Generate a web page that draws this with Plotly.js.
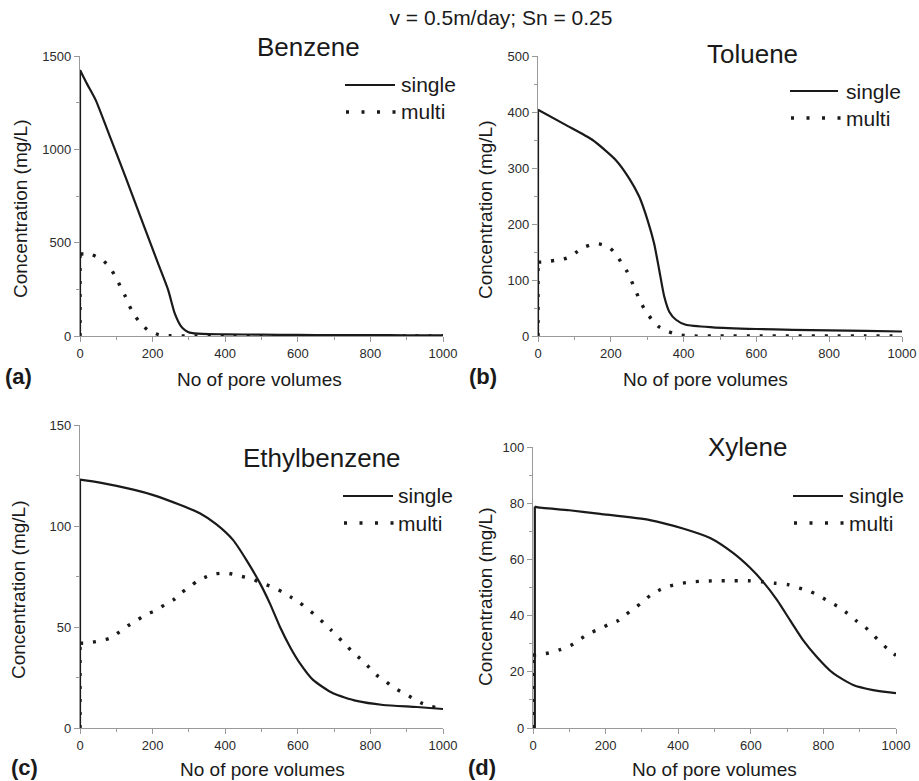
<!DOCTYPE html>
<html>
<head>
<meta charset="utf-8">
<script src="https://cdn.plot.ly/plotly-3.0.1.min.js"></script>
<style>html,body{margin:0;padding:0;background:#fff;}#chart{width:919px;height:781px;}</style>
</head>
<body>
<div id="chart"></div>
<script>
// ---------- data ----------
const mainTitle = "v = 0.5m/day; Sn = 0.25";
const panelNames = ["Benzene", "Toluene", "Ethylbenzene", "Xylene"];
const panelLetters = ["(a)", "(b)", "(c)", "(d)"];
const seriesNames = ["single", "multi"];
const xTitle = "No of pore volumes";
const yTitle = "Concentration (mg/L)";
const xTicks = [0, 200, 400, 600, 800, 1000];

// Benzene
const benzSingleX = [0, 0, 20, 43, 79, 125, 170, 215, 243, 261, 279, 290, 302, 338, 400, 500, 600, 700, 800, 900, 1000];
const benzSingleY = [0, 1425, 1348, 1265, 1086, 854, 621, 389, 246, 121, 50, 30, 18, 11, 9, 7, 6, 5, 5, 4, 4];
const benzMultiX = [0, 0, 32, 61, 81, 97, 110, 124, 136, 150, 167, 188, 217, 251, 300, 400, 500, 600, 700, 800, 900, 1000];
const benzMultiY = [0, 440, 436, 409, 370, 320, 270, 216, 162, 112, 68, 30, 7, 1, 0, 0, 0, 0, 0, 0, 0, 0];

// Toluene
const tolSingleX = [0, 0, 76, 150, 214, 250, 278, 301, 319, 333, 347, 361, 379, 406, 480, 600, 700, 800, 900, 1000];
const tolSingleY = [0, 404, 377, 350, 314, 282, 249, 207, 165, 118, 70, 43, 29, 20, 15.5, 12.5, 11, 10, 9, 8];
const tolMultiX = [0, 0, 10, 47, 79, 104, 128, 159, 191, 212, 228, 244, 257, 269, 281, 295, 312, 331, 358, 389, 425, 500, 600, 700, 800, 900, 1000];
const tolMultiY = [0, 132, 132, 135, 139, 149, 159, 165, 160, 148, 132, 116, 98, 80, 62, 45, 30, 17, 8, 2, 0, 0, 0, 0, 0, 0, 0];

// Ethylbenzene
const ethSingleX = [0, 0, 55, 147, 202, 275, 330, 376, 422, 459, 496, 523, 551, 579, 606, 642, 697, 762, 835, 928, 1000];
const ethSingleY = [0, 123, 121.5, 118, 115.3, 110.5, 106.3, 100.8, 93, 83, 71.6, 61.7, 50, 40, 32, 23.8, 17.2, 13.4, 11.4, 10.4, 9.4];
const ethMultiX = [0, 0, 17, 51, 83, 108, 132, 155, 179, 206, 233, 258, 280, 303, 325, 350, 367, 404, 441, 473, 500, 528, 556, 581, 606, 627, 650, 672, 691, 711, 732, 752, 776, 797, 817, 840, 863, 889, 914, 939, 969, 1000];
const ethMultiY = [0, 42, 42, 43, 44.5, 47.5, 50.6, 53, 56, 58, 61, 63.5, 67, 70, 73, 75, 76.2, 76.7, 75.2, 73.8, 71.8, 69.9, 67.5, 64.8, 61.9, 58.9, 55.6, 51.9, 48.6, 45, 41.2, 37.4, 33.7, 29.9, 26.2, 23.4, 20.1, 17.5, 15, 12.5, 10.6, 9.3];

// Xylene
const xylSingleX = [5, 5, 9, 100, 185, 322, 413, 488, 551, 598, 634, 672, 708, 744, 782, 826, 882, 937, 1000];
const xylSingleY = [0, 78.8, 78.6, 77.5, 76.2, 74, 71, 67.6, 62.3, 57, 52, 45.6, 38.4, 31.3, 25.3, 19.6, 15.3, 13.5, 12.4];
const xylMultiX = [0, 0, 9, 43, 75, 103, 128, 153, 179, 208, 234, 257, 279, 302, 324, 350, 373, 405, 437, 476, 515, 553, 593, 633, 667, 703, 734, 765, 793, 818, 843, 866, 892, 915, 935, 956, 975, 1000];
const xylMultiY = [0, 26, 26, 26.7, 27.9, 29.3, 31.4, 33.6, 35, 36.8, 38.2, 40.5, 42.6, 44.8, 47.3, 49.2, 50.4, 51.4, 52, 52.3, 52.4, 52.4, 52.4, 52, 51.5, 51, 49.8, 48.5, 46.7, 44.8, 43, 40.8, 38, 35.9, 33.4, 30.7, 28.4, 25.8];

const yMax = [1500, 500, 150, 100];
const yDtick = [500, 100, 50, 20];
const yMinor = [250, 50, 25, 10];

// ---------- layout geometry ----------
const W = 919, H = 781;
const px = v => v / W;
const py = v => 1 - v / H;
const FONT = "Liberation Sans, Arial, sans-serif";
const INK = "#1a1a1a";
const SOLID = {color: INK, width: 2.2};
const DOTTED = {color: INK, width: 3.4, dash: "3px,10px"};

// plot boxes [left, right, top, bottom] in pixels
const boxes = [[80, 443, 56, 336], [538, 902, 56, 336], [80, 443, 425, 728], [533, 896, 447, 728]];

const data = [
  [benzSingleX, benzSingleY, benzMultiX, benzMultiY],
  [tolSingleX, tolSingleY, tolMultiX, tolMultiY],
  [ethSingleX, ethSingleY, ethMultiX, ethMultiY],
  [xylSingleX, xylSingleY, xylMultiX, xylMultiY]
];

const traces = [];
const layout = {
  width: W, height: H,
  margin: {l: 0, r: 0, t: 0, b: 0},
  paper_bgcolor: "#fff", plot_bgcolor: "#fff",
  font: {family: FONT, color: INK},
  showlegend: false,
  annotations: [],
  shapes: [],
  title: {text: mainTitle, font: {size: 21, family: FONT, color: INK}, x: px(501), xanchor: "center", y: py(18), yanchor: "middle"}
};

// legend: [sample line left, sample line right, text left, first row y, second row y] (pixels)
const legendPos = [[345, 395, 400, 85, 112], [790, 838, 845, 91, 118], [343, 393, 397, 496, 523], [793, 843, 848, 496, 523]];

// each series: the initial vertical jump (first two points) drawn straight, the rest smoothed
function addSeries(xs, ys, name, style, xr, yr) {
  traces.push({x: xs.slice(0, 2), y: ys.slice(0, 2), name: name, type: "scatter", mode: "lines",
    line: Object.assign({shape: "linear"}, style), xaxis: xr, yaxis: yr, hoverinfo: "skip"});
  traces.push({x: xs.slice(1), y: ys.slice(1), name: name, type: "scatter", mode: "lines",
    line: Object.assign({shape: "spline", smoothing: 0.6}, style), xaxis: xr, yaxis: yr, hoverinfo: "skip"});
}

for (let i = 0; i < 4; i++) {
  const n = i + 1;
  const xa = "xaxis" + (n === 1 ? "" : n), ya = "yaxis" + (n === 1 ? "" : n);
  const xr = "x" + (n === 1 ? "" : n), yr = "y" + (n === 1 ? "" : n);
  const [L, R, T, B] = boxes[i];
  const d = data[i];
  addSeries(d[0], d[1], seriesNames[0], SOLID, xr, yr);
  addSeries(d[2], d[3], seriesNames[1], DOTTED, xr, yr);

  const common = {
    showline: true, linecolor: "#9a9a9a", linewidth: 1.2, mirror: false,
    showgrid: false, zeroline: false, ticks: "outside", ticklen: 5, tickwidth: 1, tickcolor: "#9a9a9a",
    tickfont: {size: 13, color: "#2a2a2a", family: FONT}, automargin: false, fixedrange: true
  };
  layout[xa] = Object.assign({}, common, {
    domain: [px(L), px(R)], range: [0, 1000], anchor: yr, tickvals: xTicks,
    minor: {dtick: 100, ticks: "outside", ticklen: 3, tickcolor: "#9a9a9a", showgrid: false}
  });
  layout[ya] = Object.assign({}, common, {
    domain: [py(B), py(T)], range: [0, yMax[i]], anchor: xr, dtick: yDtick[i], tick0: 0,
    minor: {dtick: yMinor[i], ticks: "outside", ticklen: 3, tickcolor: "#9a9a9a", showgrid: false}
  });

  // legend drawn in paper space
  const [l0, l1, tx, r1, r2] = legendPos[i];
  layout.shapes.push({type: "line", xref: "paper", yref: "paper", x0: px(l0), x1: px(l1), y0: py(r1), y1: py(r1), line: SOLID});
  layout.shapes.push({type: "line", xref: "paper", yref: "paper", x0: px(l0 + 1), x1: px(l1 + 4), y0: py(r2), y1: py(r2), line: {color: INK, width: 3.4, dash: "3px,12.5px"}});
  layout.annotations.push({text: seriesNames[0], xref: "paper", yref: "paper", x: px(tx), y: py(r1), xanchor: "left", yanchor: "middle",
    showarrow: false, font: {size: 21, family: FONT, color: INK}, borderpad: 0});
  layout.annotations.push({text: seriesNames[1], xref: "paper", yref: "paper", x: px(tx), y: py(r2), xanchor: "left", yanchor: "middle",
    showarrow: false, font: {size: 21, family: FONT, color: INK}, borderpad: 0});
}

// subplot titles, axis titles, panel letters (pixels)
const titlePos = [[308, 47], [752, 54], [322, 458], [748, 447]];
const yTitlePos = [[21, 209], [485, 210], [18, 590], [485, 597]];
const xTitlePos = [[259, 379], [705, 379], [262, 769], [714, 769]];
const letterPos = [[18, 376], [483, 376], [24, 767], [482, 767]];

for (let i = 0; i < 4; i++) {
  layout.annotations.push({text: panelNames[i], xref: "paper", yref: "paper", x: px(titlePos[i][0]), y: py(titlePos[i][1]),
    xanchor: "center", yanchor: "middle", showarrow: false, font: {size: 26, family: FONT, color: INK}});
  layout.annotations.push({text: yTitle, xref: "paper", yref: "paper", x: px(yTitlePos[i][0]), y: py(yTitlePos[i][1]),
    xanchor: "center", yanchor: "middle", textangle: -90, showarrow: false, font: {size: 19, family: FONT, color: INK}});
  layout.annotations.push({text: xTitle, xref: "paper", yref: "paper", x: px(xTitlePos[i][0]), y: py(xTitlePos[i][1]),
    xanchor: "center", yanchor: "middle", showarrow: false, font: {size: 19, family: FONT, color: INK}, borderpad: 0});
  layout.annotations.push({text: "<b>" + panelLetters[i] + "</b>", xref: "paper", yref: "paper", x: px(letterPos[i][0]), y: py(letterPos[i][1]),
    xanchor: "center", yanchor: "middle", showarrow: false, font: {size: 22, family: FONT, color: INK}, borderpad: 0});
}

Plotly.newPlot("chart", traces, layout, {displayModeBar: false, staticPlot: true});
</script>
</body>
</html>
